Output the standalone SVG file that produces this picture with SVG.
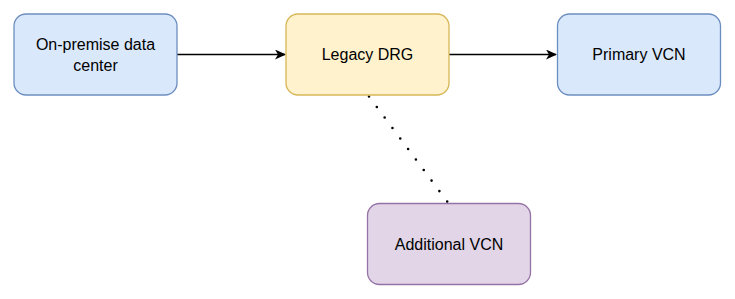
<svg xmlns="http://www.w3.org/2000/svg" width="735" height="299" viewBox="0 0 735 299">
<defs>
<style>
.blue{fill:#dae8fc;stroke:#6c8ebf;stroke-width:1.3}
.yellow{fill:#fff2cc;stroke:#d6b656;stroke-width:1.3}
.purple{fill:#e1d5e7;stroke:#9673a6;stroke-width:1.3}
text{font-family:"Liberation Sans",Arial,sans-serif;font-size:16px;fill:#000;text-anchor:middle}
.edge{stroke:#000;stroke-width:1.3;fill:none}
</style>
<marker id="arr" markerWidth="12" markerHeight="10" refX="10" refY="5" orient="auto" markerUnits="userSpaceOnUse">
<path d="M0,0 L11,5 L0,10 L3,5 Z" fill="#000"/>
</marker>
</defs>
<g id="connectors">
<line class="edge" x1="177" y1="54.5" x2="285" y2="54.5" marker-end="url(#arr)"/>
<line class="edge" x1="449" y1="54.5" x2="556" y2="54.5" marker-end="url(#arr)"/>
<line x1="369" y1="96.5" x2="447.5" y2="202" stroke="#000" stroke-width="2.6" stroke-dasharray="0 13.1" stroke-linecap="round"/>
</g>
<g id="onprem">
<rect class="blue" x="14" y="14" width="163" height="81" rx="12"/>
<text x="95.5" y="50">On-premise data</text>
<text x="95.5" y="70.5">center</text>
</g>
<g id="drg">
<rect class="yellow" x="286" y="14" width="163" height="81" rx="12"/>
<text x="367.5" y="60">Legacy DRG</text>
</g>
<g id="primary">
<rect class="blue" x="557.5" y="14" width="163" height="81" rx="12"/>
<text x="639" y="60">Primary VCN</text>
</g>
<g id="additional">
<rect class="purple" x="367.5" y="203.5" width="163" height="81" rx="12"/>
<text x="449" y="249.5">Additional VCN</text>
</g>
</svg>
